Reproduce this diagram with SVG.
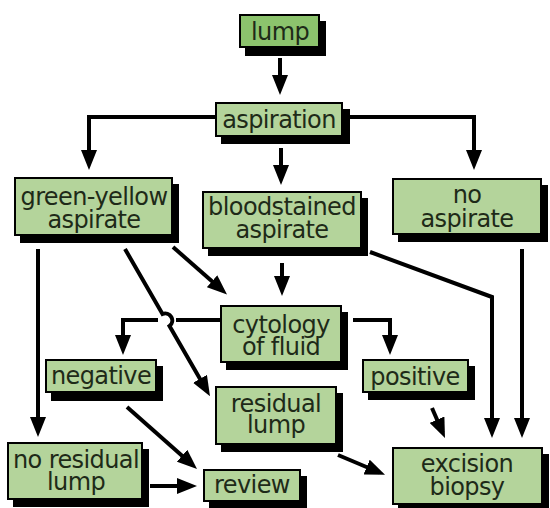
<svg xmlns="http://www.w3.org/2000/svg" width="550" height="508" viewBox="0 0 550 508">
<style>
.sh{fill:#000}
.bx{fill:#b4d49b;stroke:#000;stroke-width:2}
.dk{fill:#8cc36d}
.t{font-family:"DejaVu Sans",Verdana,sans-serif;font-size:24px;letter-spacing:-0.6px;fill:#1e2a18;text-anchor:middle}
.c{fill:none;stroke:#000;stroke-width:4;marker-end:url(#ah)}
.n{fill:none;stroke:#000;stroke-width:4}
</style>
<defs>
<marker id="ah" markerUnits="userSpaceOnUse" viewBox="0 0 20 16" refX="14" refY="8" markerWidth="20" markerHeight="16" orient="auto">
<path d="M0,0 L20,8 L0,16 Z" fill="#000"/>
</marker>
</defs>
<g id="connectors">
<path class="c" d="M280,58 V89"/>
<path class="c" d="M215,117 H89 V164"/>
<path class="c" d="M350,117 H474 V164"/>
<path class="c" d="M281,148 V179"/>
<path class="c" d="M38,249 V431"/>
<path class="c" d="M173,247 L222.5,290.5"/>
<path class="c" d="M125,249 L162.5,314 A7 7 0 0 1 169.5,326 L207,391"/>
<path class="c" d="M282,263 V290"/>
<path class="n" d="M220,320 H176"/>
<path class="c" d="M158,320 H123 V349"/>
<path class="c" d="M353,320 H390 V349"/>
<path class="c" d="M370,252 L492,297 V432"/>
<path class="c" d="M522,249 V432"/>
<path class="c" d="M432,408 L442.6,432.5"/>
<path class="c" d="M338,455 L379.5,472.5"/>
<path class="c" d="M127,407 L192.5,465"/>
<path class="c" d="M150,486 H191"/>
</g>
<g id="lump"><rect class="sh" x="245" y="21" width="81" height="35"/><rect class="bx dk" x="240" y="15" width="79" height="32"/><text class="t" x="280" y="40">lump</text></g>
<g id="aspiration"><rect class="sh" x="221" y="109" width="129" height="35"/><rect class="bx" x="216" y="103" width="126" height="33"/><text class="t" x="279" y="128">aspiration</text></g>
<g id="green-yellow"><rect class="sh" x="20" y="184" width="159" height="59"/><rect class="bx" x="15" y="178" width="157" height="57"/><text class="t" x="94" y="205">green-yellow</text><text class="t" x="94" y="228">aspirate</text></g>
<g id="bloodstained"><rect class="sh" x="208" y="198" width="160" height="58"/><rect class="bx" x="203" y="192" width="158" height="56"/><text class="t" x="282" y="215">bloodstained</text><text class="t" x="282" y="238">aspirate</text></g>
<g id="no-aspirate"><rect class="sh" x="398" y="185" width="150" height="57"/><rect class="bx" x="393" y="179" width="148" height="55"/><text class="t" x="467" y="203">no</text><text class="t" x="467" y="227">aspirate</text></g>
<g id="cytology"><rect class="sh" x="226" y="312" width="122" height="58"/><rect class="bx" x="221" y="306" width="120" height="56"/><text class="t" x="281" y="333">cytology</text><text class="t" x="281" y="355">of fluid</text></g>
<g id="negative"><rect class="sh" x="51" y="366" width="112" height="35"/><rect class="bx" x="46" y="360" width="110" height="32"/><text class="t" x="101" y="384">negative</text></g>
<g id="positive"><rect class="sh" x="368" y="366" width="107" height="34"/><rect class="bx" x="363" y="360" width="105" height="32"/><text class="t" x="415" y="385">positive</text></g>
<g id="residual-lump"><rect class="sh" x="221" y="393" width="122" height="59"/><rect class="bx" x="216" y="387" width="120" height="57"/><text class="t" x="276" y="412">residual</text><text class="t" x="276" y="433">lump</text></g>
<g id="no-residual-lump"><rect class="sh" x="13" y="449" width="136" height="58"/><rect class="bx" x="8" y="443" width="134" height="56"/><text class="t" x="76" y="468">no residual</text><text class="t" x="76" y="490">lump</text></g>
<g id="review"><rect class="sh" x="209" y="476" width="98" height="34"/><rect class="bx" x="204" y="470" width="96" height="31"/><text class="t" x="252" y="493">review</text></g>
<g id="excision-biopsy"><rect class="sh" x="398" y="454" width="151" height="58"/><rect class="bx" x="393" y="448" width="149" height="56"/><text class="t" x="467" y="472">excision</text><text class="t" x="467" y="495">biopsy</text></g>
</svg>
